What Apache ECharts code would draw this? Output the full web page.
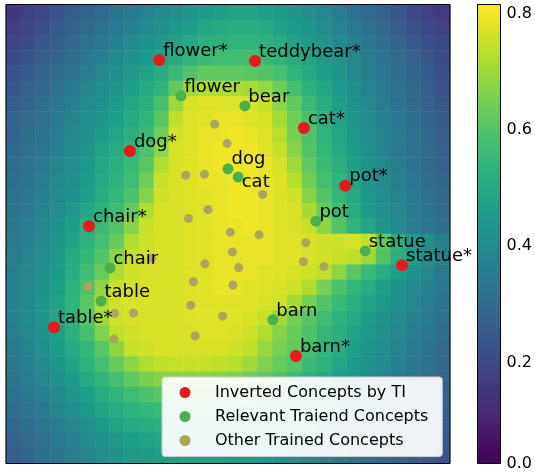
<!DOCTYPE html>
<html>
<head>
<meta charset="utf-8">
<script src="https://cdn.jsdelivr.net/npm/echarts@6/dist/echarts.min.js"></script>
<style>
  html, body { margin: 0; padding: 0; background: #fff; }
  #chart { width: 535px; height: 473px; }
</style>
</head>
<body>
<div id="chart"></div>
<script>
// background similarity field (rows top -> bottom, 30 x 30 cells)
const field = [
  [.15,.18,.20,.23,.26,.28,.30,.33,.35,.38,.40,.42,.44,.46,.47,.48,.48,.47,.46,.44,.42,.39,.36,.33,.30,.27,.24,.21,.18,.16],
  [.17,.19,.22,.25,.27,.30,.32,.35,.37,.40,.42,.45,.47,.49,.50,.51,.51,.50,.48,.46,.44,.41,.38,.35,.32,.29,.26,.23,.20,.18],
  [.19,.21,.24,.26,.29,.32,.34,.37,.40,.43,.45,.48,.50,.52,.53,.54,.54,.53,.51,.48,.46,.43,.40,.37,.34,.31,.28,.25,.22,.20],
  [.21,.23,.26,.28,.31,.34,.37,.40,.43,.46,.48,.51,.54,.56,.57,.57,.57,.56,.54,.51,.48,.45,.42,.39,.36,.33,.30,.27,.24,.21],
  [.23,.25,.28,.30,.33,.36,.39,.42,.45,.48,.51,.56,.60,.62,.62,.62,.61,.60,.58,.54,.50,.47,.44,.40,.37,.34,.31,.28,.25,.22],
  [.24,.27,.29,.32,.35,.38,.41,.44,.47,.50,.54,.62,.70,.72,.72,.72,.71,.69,.64,.58,.53,.49,.45,.42,.38,.35,.32,.29,.26,.23],
  [.26,.28,.31,.34,.37,.40,.43,.46,.49,.52,.58,.70,.77,.78,.78,.78,.77,.75,.68,.62,.56,.51,.47,.43,.39,.36,.33,.30,.27,.24],
  [.27,.30,.32,.35,.38,.41,.44,.47,.50,.54,.61,.74,.78,.78,.79,.79,.78,.77,.71,.64,.58,.53,.48,.44,.40,.37,.34,.31,.28,.25],
  [.28,.31,.33,.36,.39,.42,.46,.49,.52,.56,.64,.76,.78,.79,.79,.80,.79,.78,.73,.65,.59,.54,.49,.45,.41,.38,.35,.32,.29,.26],
  [.29,.32,.34,.37,.40,.44,.48,.51,.55,.59,.68,.77,.78,.79,.80,.80,.80,.78,.75,.67,.60,.55,.50,.46,.42,.38,.35,.32,.30,.27],
  [.30,.33,.35,.38,.41,.45,.49,.52,.56,.61,.72,.77,.78,.79,.80,.80,.80,.79,.77,.70,.62,.56,.52,.47,.43,.39,.36,.33,.30,.27],
  [.31,.33,.36,.39,.42,.46,.50,.53,.57,.64,.75,.77,.78,.79,.79,.80,.80,.79,.78,.73,.64,.58,.54,.49,.44,.40,.37,.34,.31,.28],
  [.32,.34,.37,.40,.43,.47,.51,.55,.59,.67,.76,.77,.78,.78,.79,.80,.80,.79,.78,.76,.67,.60,.55,.50,.45,.41,.38,.35,.32,.29],
  [.33,.35,.38,.41,.45,.49,.53,.57,.62,.72,.77,.77,.78,.78,.79,.80,.80,.79,.78,.77,.71,.63,.57,.51,.46,.42,.39,.35,.33,.30],
  [.34,.36,.39,.43,.47,.52,.56,.60,.67,.75,.77,.77,.78,.78,.79,.79,.80,.79,.78,.77,.75,.68,.60,.54,.49,.44,.40,.36,.34,.31],
  [.35,.37,.40,.44,.48,.53,.58,.63,.72,.76,.77,.77,.78,.78,.79,.79,.79,.79,.78,.78,.77,.76,.76,.77,.74,.62,.52,.46,.41,.37],
  [.36,.38,.41,.45,.50,.55,.60,.68,.75,.76,.77,.77,.78,.78,.79,.79,.79,.79,.78,.78,.77,.76,.75,.74,.70,.60,.52,.46,.41,.37],
  [.36,.39,.42,.46,.51,.57,.63,.72,.76,.77,.77,.77,.78,.78,.79,.79,.79,.78,.78,.77,.76,.74,.68,.61,.56,.51,.47,.43,.39,.35],
  [.37,.39,.43,.47,.53,.59,.68,.75,.76,.77,.77,.77,.78,.78,.79,.79,.78,.78,.77,.76,.72,.65,.59,.55,.51,.47,.43,.40,.37,.34],
  [.37,.40,.44,.48,.54,.61,.72,.76,.77,.77,.77,.77,.78,.78,.78,.78,.78,.77,.76,.71,.65,.60,.56,.52,.48,.45,.42,.39,.36,.33],
  [.37,.40,.44,.49,.53,.60,.70,.76,.77,.77,.77,.77,.78,.78,.78,.78,.77,.75,.70,.65,.61,.57,.53,.50,.46,.43,.40,.37,.35,.32],
  [.36,.39,.43,.47,.52,.58,.66,.74,.76,.77,.77,.77,.77,.78,.78,.77,.76,.72,.67,.63,.59,.55,.52,.48,.45,.42,.39,.36,.34,.31],
  [.35,.38,.42,.46,.50,.55,.61,.68,.75,.76,.77,.77,.77,.77,.77,.76,.74,.69,.65,.62,.58,.54,.51,.47,.44,.41,.38,.35,.33,.30],
  [.34,.37,.40,.44,.48,.53,.58,.63,.68,.72,.74,.75,.75,.75,.74,.73,.70,.66,.63,.60,.56,.53,.49,.46,.43,.40,.37,.34,.32,.29],
  [.33,.36,.39,.42,.46,.50,.54,.58,.62,.65,.67,.68,.68,.68,.67,.66,.64,.62,.59,.56,.53,.50,.47,.44,.41,.38,.35,.33,.31,.28],
  [.32,.34,.37,.40,.44,.47,.51,.54,.57,.59,.61,.62,.62,.62,.61,.60,.59,.57,.55,.52,.50,.47,.44,.42,.39,.36,.34,.32,.30,.27],
  [.30,.33,.35,.38,.41,.45,.48,.51,.53,.55,.56,.57,.57,.57,.57,.56,.55,.53,.51,.49,.47,.44,.42,.39,.37,.35,.33,.31,.29,.26],
  [.29,.31,.34,.36,.39,.42,.45,.48,.50,.51,.52,.53,.53,.53,.53,.52,.51,.50,.48,.46,.44,.42,.40,.37,.35,.33,.31,.29,.27,.25],
  [.27,.30,.32,.35,.37,.40,.43,.45,.47,.48,.49,.50,.50,.50,.50,.49,.48,.47,.45,.43,.41,.39,.37,.35,.33,.31,.29,.27,.26,.24],
  [.26,.28,.31,.33,.36,.38,.41,.43,.45,.46,.47,.47,.47,.47,.47,.46,.45,.44,.43,.41,.39,.37,.35,.33,.31,.29,.28,.26,.25,.23]
];

// concept embeddings (x, y in 0..100)
const invertedNames = ['flower*', 'teddybear*', 'cat*', 'dog*', 'pot*', 'chair*', 'statue*', 'table*', 'barn*'];
const invertedX = [34.5, 56.1, 67.1, 27.9, 76.4, 18.7, 89.2, 10.8, 65.3];
const invertedY = [87.9, 87.7, 73.1, 68.1, 60.5, 51.7, 43.2, 29.7, 23.4];

const relevantNames = ['flower', 'bear', 'dog', 'cat', 'pot', 'statue', 'chair', 'table', 'barn'];
const relevantX = [39.4, 53.8, 50.0, 52.3, 69.8, 80.9, 23.4, 21.4, 60.1];
const relevantY = [80.1, 77.9, 64.2, 62.4, 52.8, 46.3, 42.6, 35.4, 31.3];

const otherX = [47.0, 49.8, 40.5, 44.7, 57.8, 45.5, 41.1, 50.5, 57.0, 67.5, 51.0, 44.8, 52.4,
                42.2, 51.1, 18.5, 41.6, 24.5, 28.7, 48.8, 42.6, 24.3, 32.8, 67.0, 71.6];
const otherY = [73.9, 69.7, 62.8, 63.0, 58.6, 55.3, 53.4, 50.4, 49.8, 48.1, 46.1, 43.5, 42.7,
                39.6, 38.9, 38.5, 34.5, 32.7, 32.8, 32.1, 27.8, 27.1, 44.7, 44.0, 42.9];

const colorbarTicks = [0.026, 0.2, 0.4, 0.6, 0.8];

const viridis = ['#440154', '#482878', '#3e4989', '#31688e', '#26828e',
                 '#1f9e89', '#35b779', '#6ece58', '#b5de2b', '#fde725'];

const FONT = 'DejaVu Sans';

const heatData = [];
field.forEach((row, r) => row.forEach((v, c) => heatData.push([c, r, v])));
const cats = field[0].map((_, i) => i);

function pts(xs, ys, names) {
  return xs.map((x, i) => {
    const item = { value: [x, ys[i]] };
    if (names) {
      item.name = names[i];
      // the "cat" label was pushed below its point in the original
      if (names[i] === 'cat') item.label = { offset: [-2, 5] };
    }
    return item;
  });
}

const pointLabel = {
  show: true,
  position: 'right',
  distance: 0,
  offset: [-2, -9],
  formatter: p => p.name,
  color: '#000',
  fontSize: 18,
  fontFamily: FONT
};

const chart = echarts.init(document.getElementById('chart'));
chart.setOption({
  animation: false,
  textStyle: { fontFamily: FONT },
  grid: [
    { left: 6, top: 4.5, width: 444, height: 459 },
    { left: 6, top: 4.5, width: 444, height: 459, show: true, z: 5,
      backgroundColor: 'transparent', borderColor: '#000', borderWidth: 1 },
    { left: 477.5, top: 4.5, width: 23, height: 459, show: true, z: 10,
      backgroundColor: 'transparent', borderColor: '#000', borderWidth: 1 }
  ],
  xAxis: [
    { type: 'category', data: cats, gridIndex: 0, show: false },
    { type: 'value', gridIndex: 1, min: 0, max: 100, show: false },
    { type: 'value', gridIndex: 2, min: 0, max: 1, show: false }
  ],
  yAxis: [
    { type: 'category', data: cats, gridIndex: 0, inverse: true, show: false },
    { type: 'value', gridIndex: 1, min: 0, max: 100, show: false },
    {
      type: 'value', gridIndex: 2, position: 'right', min: 0.026, max: 0.816,
      axisLine: { show: false },
      splitLine: { show: false },
      axisTick: { show: true, length: 4, lineStyle: { color: '#000' }, customValues: colorbarTicks },
      axisLabel: {
        customValues: colorbarTicks, margin: 6, color: '#000', fontSize: 16, fontFamily: FONT,
        formatter: v => (v < 0.1 ? 0 : v).toFixed(1)
      }
    }
  ],
  visualMap: {
    type: 'continuous',
    seriesIndex: 0,
    min: 0.026,
    max: 0.816,
    calculable: false,
    orient: 'vertical',
    left: 477.5,
    top: 4.5,
    padding: 0,
    itemWidth: 23,
    itemHeight: 459,
    text: null,
    inRange: { color: viridis }
  },
  legend: {
    left: 162,
    top: 377,
    orient: 'vertical',
    data: ['Inverted Concepts by TI', 'Relevant Traiend Concepts', 'Other Trained Concepts'],
    icon: 'circle',
    itemWidth: 11,
    itemHeight: 11,
    itemGap: 8,
    padding: [7.5, 14, 8, 17.5],
    backgroundColor: 'rgba(255,255,255,0.92)',
    borderColor: '#cccccc',
    borderWidth: 1,
    borderRadius: 3,
    textStyle: { color: '#000', fontSize: 16, fontFamily: FONT, lineHeight: 16, padding: [0, 0, 0, 19.5] }
  },
  series: [
    {
      type: 'heatmap',
      xAxisIndex: 0,
      yAxisIndex: 0,
      data: heatData,
      itemStyle: { borderWidth: 0 },
      emphasis: { disabled: true }
    },
    {
      name: 'Other Trained Concepts',
      type: 'scatter',
      xAxisIndex: 1,
      yAxisIndex: 1,
      symbolSize: 9,
      itemStyle: { color: '#aca55c', opacity: 1 },
      data: pts(otherX, otherY),
      z: 3
    },
    {
      name: 'Relevant Traiend Concepts',
      type: 'scatter',
      xAxisIndex: 1,
      yAxisIndex: 1,
      symbolSize: 11,
      itemStyle: { color: '#4daf4a', opacity: 1 },
      label: pointLabel,
      data: pts(relevantX, relevantY, relevantNames),
      z: 4
    },
    {
      name: 'Inverted Concepts by TI',
      type: 'scatter',
      xAxisIndex: 1,
      yAxisIndex: 1,
      symbolSize: 12,
      itemStyle: { color: '#e41a1c', opacity: 1 },
      label: pointLabel,
      data: pts(invertedX, invertedY, invertedNames),
      z: 4
    }
  ]
});
</script>
</body>
</html>
